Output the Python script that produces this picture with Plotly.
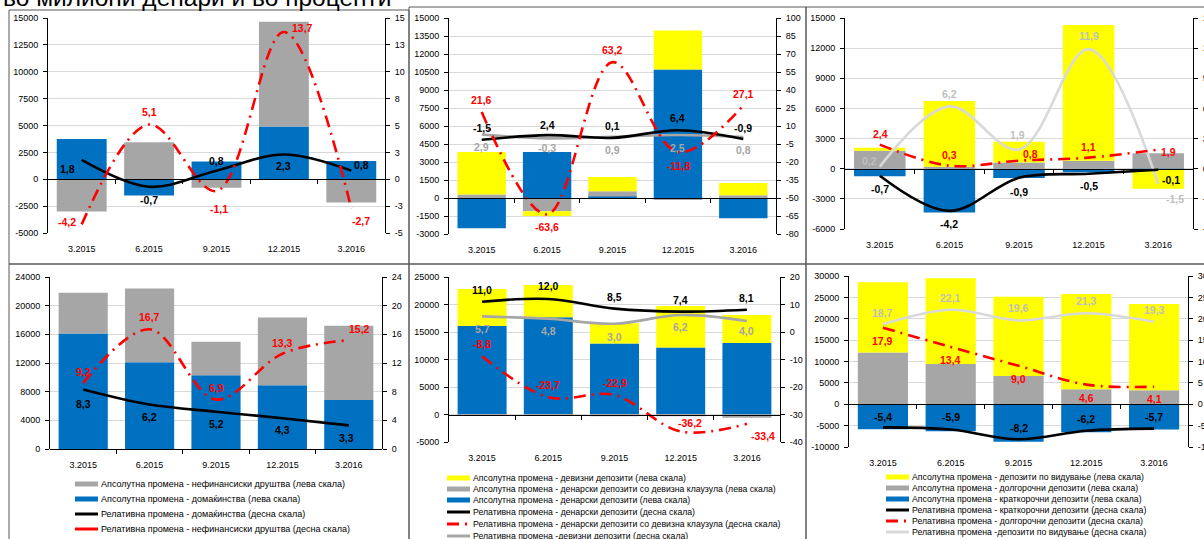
import math
import plotly.graph_objects as go

W, H = 1204, 539

categories = ["3.2015", "6.2015", "9.2015", "12.2015", "3.2016"]

# Panel 1 (top left)
p1_households_abs = [3750, -1500, 1650, 4900, 1700]
p1_corporates_abs = [-3000, 3450, -780, 9750, -2170]
p1_households_rel = [1.8, -0.7, 0.8, 2.3, 0.8]
p1_corporates_rel = [-4.2, 5.1, -1.1, 13.7, -2.7]

# Panel 2 (top middle)
p2_denar_abs = [-2530, 3830, 130, 10700, -1690]
p2_fxclause_abs = [300, -1100, 430, -100, 220]
p2_foreign_abs = [3530, -400, 1190, 3250, 1030]
p2_denar_rel = [-1.5, 2.4, 0.1, 6.4, -0.9]
p2_fxclause_rel = [21.6, -63.6, 63.2, -11.8, 27.1]
p2_foreign_rel = [2.9, -0.3, 0.9, 2.5, 0.8]

# Panel 3 (top right)
p3_short_abs = [-760, -4350, -930, -360, -100]
p3_long_abs = [1790, 200, 630, 800, 1530]
p3_demand_abs = [300, 6540, 2060, 13500, -1890]
p3_short_rel = [-0.7, -4.2, -0.9, -0.5, -0.1]
p3_long_rel = [2.4, 0.3, 0.8, 1.1, 1.9]
p3_demand_rel = [0.2, 6.2, 1.9, 11.9, -1.5]

# Panel 4 (bottom left)
p4_households_abs = [16100, 12100, 10300, 8900, 6850]
p4_corporates_abs = [5700, 10300, 4650, 9450, 10350]
p4_households_rel = [8.3, 6.2, 5.2, 4.3, 3.3]
p4_corporates_rel = [9.2, 16.7, 6.9, 13.3, 15.2]

# Panel 5 (bottom middle)
p5_denar_abs = [16100, 17700, 12900, 12200, 13000]
p5_fxclause_abs = [-50, -50, -300, -300, -600]
p5_foreign_abs = [6700, 5850, 3700, 7550, 5100]
p5_denar_rel = [11.0, 12.0, 8.5, 7.4, 8.1]
p5_fxclause_rel = [-8.8, -23.7, -22.9, -36.2, -33.4]
p5_foreign_rel = [5.7, 4.8, 3.0, 6.2, 4.0]

# Panel 6 (bottom right)
p6_short_abs = [-5850, -6300, -8800, -6550, -5900]
p6_long_abs = [12100, 9400, 6600, 3500, 3250]
p6_demand_abs = [16450, 20050, 18550, 22300, 20200]
p6_short_rel = [-5.4, -5.9, -8.2, -6.2, -5.7]
p6_long_rel = [17.9, 13.4, 9.0, 4.6, 4.1]
p6_demand_rel = [18.7, 22.1, 19.6, 21.3, 19.3]

title_text = "во милиони денари и во проценти"

legend4 = [
    "Апсолутна промена - нефинансиски друштва (лева скала)",
    "Апсолутна промена - домаќинства (лева скала)",
    "Релативна промена - домаќинства (десна скала)",
    "Релативна промена - нефинансиски друштва (десна скала)",
]
legend5 = [
    "Апсолутна промена - девизни депозити (лева скала)",
    "Апсолутна промена - денарски депозити со девизна клаузула (лева скала)",
    "Апсолутна промена - денарски депозити (лева скала)",
    "Релативна промена - денарски депозити (десна скала)",
    "Релативна промена - денарски депозити со девизна клаузула (десна скала)",
    "Релативна промена -девизни депозити (десна скала)",
]
legend6 = [
    "Апсолутна промена - депозити по видување (лева скала)",
    "Апсолутна промена - долгорочни депозити (лева скала)",
    "Апсолутна промена - краткорочни депозити (лева скала)",
    "Релативна промена - краткорочни депозити (десна скала)",
    "Релативна промена - долгорочни депозити (десна скала)",
    "Релативна промена -депозити по видување (десна скала)",
]

# ---------------- styles ----------------
BLUE = "#0070C0"
GREY = "#A6A6A6"
YELLOW = "#FFFF00"
RED = "#FF0000"
BLACK = "#000000"
LGREY = "#D9D9D9"
LBL_GREY = "#A6A6A6"
LBL_LGREY = "#BFBFBF"
DASHDOT = "12px,6px,2px,6px"
FONT = "Liberation Sans"


def fx(px):
    return px / W


def fy(py):
    return 1 - py / H


def excel_round(v):
    return int(math.copysign(math.floor(abs(v) + 0.5), v))


def fmt(v):
    return f"{v:.1f}".replace(".", ",")


panels = [
    dict(box=(48, 18, 385, 233), left=(-5000, 15000, 2500), right=(-5, 15, 2.5),
         bars=[(p1_households_abs, BLUE), (p1_corporates_abs, GREY)],
         lines=[(p1_households_rel, BLACK, "solid", BLACK,
                 [(-14, 9), (0, 13), (0, -10), (0, 11), (10, -6)]),
                (p1_corporates_rel, RED, DASHDOT, RED,
                 [(-15, -2), (0, -12), (2, 18), (19, -4), (10, 13)])]),
    dict(box=(449, 18, 776, 234), left=(-3000, 15000, 1500), right=(-80, 100, 15),
         bars=[(p2_denar_abs, BLUE), (p2_fxclause_abs, GREY), (p2_foreign_abs, YELLOW)],
         lines=[(p2_foreign_rel, GREY, "solid", LBL_GREY,
                 [(0, 12), (0, 10), (0, 13), (0, 13), (0, 13)]),
                (p2_denar_rel, BLACK, "solid", BLACK,
                 [(0, -12), (0, -10), (0, -12), (0, -12), (0, -11)]),
                (p2_fxclause_rel, RED, DASHDOT, RED,
                 [(0, -12), (0, 13), (0, -12), (1, 14), (0, -11)])]),
    dict(box=(845, 18, 1193, 229), left=(-6000, 15000, 3000), right=(-6, 15, 3),
         bars=[(p3_short_abs, BLUE), (p3_long_abs, GREY), (p3_demand_abs, YELLOW)],
         lines=[(p3_demand_rel, LGREY, "solid", LBL_LGREY,
                 [(-10, -6), (0, -12), (-2, -15), (0, -13), (17, 15)]),
                (p3_short_rel, BLACK, "solid", BLACK,
                 [(0, 13), (0, 13), (0, 14), (0, 12), (13, 10)]),
                (p3_long_rel, RED, DASHDOT, RED,
                 [(1, -11), (0, -11), (11, -7), (0, -11), (10, 2)])]),
    dict(box=(50, 277, 382, 449), left=(0, 24000, 4000), right=(0, 24, 4),
         bars=[(p4_households_abs, BLUE), (p4_corporates_abs, GREY)],
         lines=[(p4_households_rel, BLACK, "solid", BLACK,
                 [(0, 14), (0, 12), (0, 12), (0, 12), (-2, 13)]),
                (p4_corporates_rel, RED, DASHDOT, RED,
                 [(0, -11), (0, -12), (0, -12), (0, -11), (11, -11)])]),
    dict(box=(449, 277, 780, 442), left=(-5000, 25000, 5000), right=(-40, 20, 10),
         bars=[(p5_denar_abs, BLUE), (p5_fxclause_abs, GREY), (p5_foreign_abs, YELLOW)],
         lines=[(p5_foreign_rel, GREY, "solid", LBL_GREY,
                 [(0, 13), (0, 12), (0, 13), (0, 12), (0, 10)]),
                (p5_denar_rel, BLACK, "solid", BLACK,
                 [(0, -12), (0, -13), (0, -12), (0, -12), (0, -12)]),
                (p5_fxclause_rel, RED, DASHDOT, RED,
                 [(0, -12), (0, -12), (0, -12), (9, -9), (16, 12)])]),
    dict(box=(849, 276, 1188, 447), left=(-10000, 30000, 5000), right=(-10, 30, 5),
         bars=[(p6_short_abs, BLUE), (p6_long_abs, GREY), (p6_demand_abs, YELLOW)],
         lines=[(p6_demand_rel, LGREY, "solid", LBL_LGREY,
                 [(0, -11), (0, -12), (0, -12), (0, -12), (0, -12)]),
                (p6_short_rel, BLACK, "solid", BLACK,
                 [(0, -10), (0, -12), (0, -11), (0, -12), (0, -12)]),
                (p6_long_rel, RED, DASHDOT, RED,
                 [(0, 13), (0, 13), (0, 13), (0, 13), (0, 12)])]),
]

fig = go.Figure()
layout = dict(
    width=W, height=H,
    margin=dict(l=0, r=0, t=0, b=0, autoexpand=False),
    paper_bgcolor="white", plot_bgcolor="white",
    barmode="relative", bargap=0.26,
    showlegend=False,
    font=dict(family=FONT, size=9, color=BLACK),
)
annotations = []
shapes = []

tickfont = dict(family=FONT, size=9, color=BLACK)

for i, p in enumerate(panels, start=1):
    xname = "x" if i == 1 else f"x{i}"
    xkey = "xaxis" if i == 1 else f"xaxis{i}"
    yl_id = 2 * i - 1
    yr_id = 2 * i
    yl = "y" if yl_id == 1 else f"y{yl_id}"
    yl_key = "yaxis" if yl_id == 1 else f"yaxis{yl_id}"
    yr = f"y{yr_id}"
    yr_key = f"yaxis{yr_id}"
    xt_key = f"xaxis{6 + i}"

    x0, top, x1, bottom = p["box"]
    lmin, lmax, lstep = p["left"]
    rmin, rmax, rstep = p["right"]
    ydom = [fy(bottom), fy(top)]

    lvals = [lmin + k * lstep for k in range(int(round((lmax - lmin) / lstep)) + 1)]
    rvals = [rmin + k * rstep for k in range(int(round((rmax - rmin) / rstep)) + 1)]

    layout[xkey] = dict(
        domain=[fx(x0), fx(x1)], anchor=yl, type="category",
        categoryorder="array", categoryarray=categories,
        range=[-0.5, len(categories) - 0.5],
        showline=False, ticks="", ticklen=0, showgrid=False, zeroline=False,
        tickfont=tickfont, automargin=False, ticklabelstandoff=9, fixedrange=True,
    )
    layout[yl_key] = dict(
        domain=ydom, anchor=xname, range=[lmin, lmax],
        tickmode="array", tickvals=lvals, ticktext=[str(int(v)) for v in lvals],
        showgrid=True, gridcolor=LGREY, gridwidth=1,
        showline=True, linecolor=BLACK, linewidth=1,
        ticks="outside", ticklen=4, tickcolor=BLACK, ticklabelstandoff=3,
        zeroline=False, tickfont=tickfont, automargin=False, fixedrange=True,
    )
    layout[yr_key] = dict(
        overlaying=yl, side="right", anchor=xname, range=[rmin, rmax],
        tickmode="array", tickvals=rvals, ticktext=[str(excel_round(v)) for v in rvals],
        showgrid=False, showline=True, linecolor=BLACK, linewidth=1,
        ticks="outside", ticklen=4, tickcolor=BLACK, ticklabelstandoff=3,
        zeroline=False, tickfont=tickfont, automargin=False, fixedrange=True,
    )
    zero_frac = ydom[0] + (0 - lmin) / (lmax - lmin) * (ydom[1] - ydom[0])
    layout[xt_key] = dict(
        overlaying=xname, anchor="free", position=zero_frac,
        range=[-0.5, len(categories) - 0.5],
        tickmode="array", tickvals=[k + 0.5 for k in range(len(categories) - 1)],
        ticks="outside", ticklen=4, tickcolor=BLACK, showticklabels=False,
        showgrid=False, zeroline=False, showline=True, linecolor=BLACK, linewidth=1,
        layer="above traces", automargin=False, fixedrange=True,
    )

    for vals, color in p["bars"]:
        fig.add_trace(go.Bar(
            x=categories, y=vals, xaxis=xname, yaxis=yl,
            marker=dict(color=color, line=dict(width=0)), hoverinfo="skip",
        ))
    for vals, color, dash, lblcolor, offs in p["lines"]:
        fig.add_trace(go.Scatter(
            x=categories, y=vals, xaxis=xname, yaxis=yr, mode="lines",
            line=dict(color=color, width=2.6, dash=dash, shape="spline", smoothing=1),
            hoverinfo="skip",
        ))
        for idx, (v, (dx, dy)) in enumerate(zip(vals, offs)):
            annotations.append(dict(
                x=idx, y=v, xref=xname, yref=yr, text=fmt(v), showarrow=False,
                xshift=dx, yshift=-dy, xanchor="center", yanchor="middle",
                font=dict(family=FONT, size=10.5, color=lblcolor, weight="bold"),
            ))

    # tick-boundary axis needs a (hidden) trace reference to exist
    fig.add_trace(go.Scatter(
        x=[None], y=[None], xaxis=f"x{6 + i}", yaxis=yl, mode="lines",
        hoverinfo="skip", showlegend=False,
    ))

# panel frames
frames = [(9, 10, 409, 264), (409, 7, 806, 264), (806, 7, 1210, 264),
          (9, 264, 409, 545), (409, 264, 806, 545), (806, 264, 1210, 545)]
for (a, b, c, d) in frames:
    shapes.append(dict(type="rect", xref="paper", yref="paper",
                       x0=fx(a), x1=fx(c), y0=fy(d), y1=fy(b),
                       line=dict(color="#595959", width=1), fillcolor="rgba(0,0,0,0)",
                       layer="below"))

# manual legends


def add_legend(entries, styles, sx0, sx1, tx, ys, fsize):
    for text, (kind, color, dash), yy in zip(entries, styles, ys):
        if kind == "bar":
            shapes.append(dict(type="rect", xref="paper", yref="paper",
                               x0=fx(sx0), x1=fx(sx1), y0=fy(yy + 2.5), y1=fy(yy - 2.5),
                               line=dict(width=0), fillcolor=color))
        else:
            shapes.append(dict(type="line", xref="paper", yref="paper",
                               x0=fx(sx0), x1=fx(sx1), y0=fy(yy), y1=fy(yy),
                               line=dict(color=color, width=3, dash=dash)))
        annotations.append(dict(x=fx(tx), y=fy(yy), xref="paper", yref="paper",
                                text=text, showarrow=False, xanchor="left", yanchor="middle",
                                font=dict(family=FONT, size=fsize, color=BLACK)))


add_legend(legend4,
           [("bar", GREY, None), ("bar", BLUE, None), ("line", BLACK, "solid"), ("line", RED, "solid")],
           75, 98, 99, [484, 499, 514, 529], 9)
add_legend(legend5,
           [("bar", YELLOW, None), ("bar", GREY, None), ("bar", BLUE, None),
            ("line", BLACK, "solid"), ("line", RED, DASHDOT), ("line", GREY, "solid")],
           447, 470, 471, [478, 489, 500, 512, 524, 536], 8.7)
add_legend(legend6,
           [("bar", YELLOW, None), ("bar", GREY, None), ("bar", BLUE, None),
            ("line", BLACK, "solid"), ("line", RED, DASHDOT), ("line", LGREY, "solid")],
           886, 909, 910, [477, 488, 499, 510, 521, 532], 8.7)

# cut-off heading at the very top
annotations.append(dict(x=fx(1), y=fy(-3), xref="paper", yref="paper", text=title_text,
                        showarrow=False, xanchor="left", yanchor="middle",
                        font=dict(family=FONT, size=24.5, color=BLACK)))

layout["annotations"] = annotations
layout["shapes"] = shapes
fig.update_layout(**layout)
fig.write_html(
    "out.html",
    config={"displayModeBar": False},
    post_script="document.body.style.margin='0';document.body.style.overflow='hidden';",
)
